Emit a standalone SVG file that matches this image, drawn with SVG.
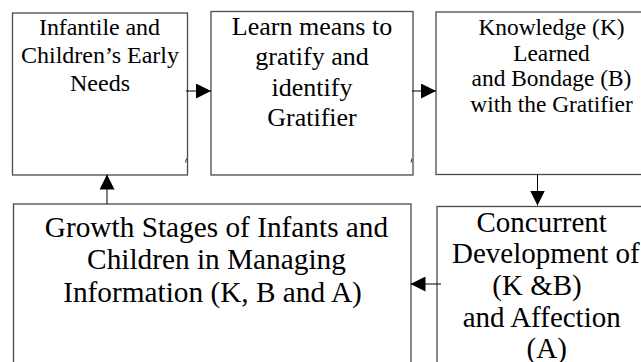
<svg xmlns="http://www.w3.org/2000/svg" width="641" height="362" viewBox="0 0 641 362">
<style>
.box{fill:#fff;stroke:#4a4a4a;stroke-width:1.3}
.t{font-family:'Liberation Serif','Times New Roman',serif;fill:#000;text-anchor:middle}
.c{stroke:#000;stroke-width:1;fill:none}
.tick{stroke:#333;stroke-width:1;fill:none}
</style>
<defs>
<marker id="ah" viewBox="0 0 15 15" refX="15" refY="7.5" markerWidth="15" markerHeight="15" markerUnits="userSpaceOnUse" orient="auto">
<path d="M0,0 L15,7.5 L0,15 Z" fill="#000"/>
</marker>
</defs>
<rect width="641" height="362" fill="#fff"/>
<g id="n1">
<rect class="box" x="12.5" y="13" width="175" height="162"/>
<text class="t" font-size="24"><tspan x="99.5" y="35" textLength="121" lengthAdjust="spacing">Infantile and</tspan><tspan x="100" y="63">Children’s Early</tspan><tspan x="100" y="91">Needs</tspan></text>
<path class="tick" d="M185.5,162.5 L186.5,158.5"/>
</g>
<g id="n2">
<rect class="box" x="211" y="11.5" width="202" height="163.5"/>
<text class="t" font-size="26"><tspan x="312" y="34.7">Learn means to</tspan><tspan x="312" y="65">gratify and</tspan><tspan x="312" y="95.5">identify</tspan><tspan x="312" y="126">Gratifier</tspan></text>
<path class="tick" d="M411,162.5 L412,158.5"/>
</g>
<g id="n3">
<rect class="box" x="436" y="12" width="230" height="162.5"/>
<text class="t" font-size="23.4"><tspan x="551.5" y="35.3">Knowledge (K)</tspan><tspan x="551.5" y="60.7">Learned</tspan><tspan x="551.5" y="86.3">and Bondage (B)</tspan><tspan x="551.5" y="112">with the Gratifier</tspan></text>
</g>
<g id="n4">
<rect class="box" x="437" y="206.5" width="230" height="170"/>
<text class="t" font-size="29"><tspan x="541.7" y="231.7">Concurrent</tspan><tspan x="545.8" y="263.3">Development of</tspan><tspan x="537" y="295">(K &amp;B)</tspan><tspan x="541.7" y="327">and Affection</tspan><tspan x="546.7" y="357.5">(A)</tspan></text>
</g>
<g id="n5">
<rect class="box" x="13.5" y="204" width="397.5" height="175"/>
<text class="t" font-size="29.3"><tspan x="216.5" y="237.3">Growth Stages of Infants and</tspan><tspan x="216.5" y="269.3">Children in Managing</tspan><tspan x="212.5" y="301.7">Information (K, B and A)</tspan></text>
</g>
<g id="connectors">
<line class="c" x1="186" y1="91" x2="211" y2="91" marker-end="url(#ah)"/>
<line class="c" x1="412" y1="91" x2="436" y2="91" marker-end="url(#ah)"/>
<line class="c" x1="537.5" y1="174.5" x2="537.5" y2="205.5" marker-end="url(#ah)"/>
<line class="c" x1="441" y1="284" x2="410.5" y2="284" marker-end="url(#ah)"/>
<line class="c" x1="107" y1="204" x2="107" y2="174.5" marker-end="url(#ah)"/>
</g>
</svg>
